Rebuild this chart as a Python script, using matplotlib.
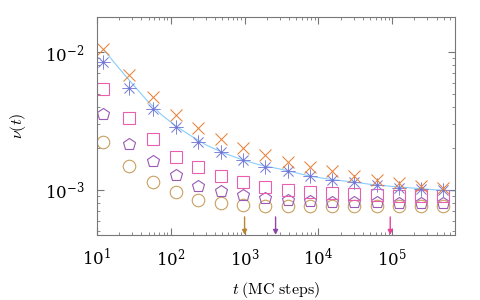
import numpy as np
import matplotlib
matplotlib.use("Agg")
import matplotlib.pyplot as plt
from matplotlib.ticker import LogLocator, NullFormatter

plt.rcParams['mathtext.fontset'] = 'cm'
plt.rcParams['font.family'] = ['DejaVu Serif']

# time points (MC steps)
t = [12, 27, 57, 117, 237, 477, 957, 1917, 3837, 7677, 15357, 30717,
     61437, 122877, 245757, 491517]

# series
nu_cross = [0.0105, 0.00681, 0.00472, 0.00349, 0.00281, 0.00234, 0.00201,
            0.00179, 0.00160, 0.00147, 0.00137, 0.00126, 0.00118, 0.00112,
            0.00107, 0.00103]
nu_star = [0.00846, 0.00548, 0.00386, 0.00286, 0.00223, 0.00188, 0.00165,
           0.00147, 0.00137, 0.00126, 0.00118, 0.00114, 0.00109, 0.00103,
           0.00102, 0.00100]
nu_square = [0.00540, 0.00333, 0.00234, 0.00173, 0.00147, 0.00126, 0.00114,
             0.00105, 0.00100, 0.000967, 0.000951, 0.000927, 0.000920,
             0.000905, 0.000905, 0.000905]
nu_pent = [0.00356, 0.00215, 0.00162, 0.00128, 0.00107, 0.000984, 0.000920,
           0.000875, 0.000847, 0.000833, 0.000819, 0.000819, 0.000813,
           0.000805, 0.000805, 0.000805]
nu_circle = [0.00221, 0.00148, 0.00114, 0.000967, 0.000847, 0.000806,
             0.000779, 0.000765, 0.000765, 0.000762, 0.000762, 0.000760,
             0.000760, 0.000760, 0.000760, 0.000760]

# fitted curve, read as points along the line
fit_t = [12.4, 20, 30, 47, 75, 117, 180, 300, 500, 940, 1600, 2970, 5000,
         7540, 15000, 30000, 49000, 100000, 198000, 400000, 710000]
fit_nu = [0.01034, 0.00760, 0.00590, 0.00449, 0.00350, 0.00291, 0.00250,
          0.00212, 0.00187, 0.00165, 0.00152, 0.00142, 0.00133, 0.00126,
          0.00119, 0.00114, 0.00110, 0.00106, 0.00103, 0.00100, 0.000984]

# arrows marking crossover times
arrow_t = [1000, 2630, 94000]
arrow_colors = ['#b8862e', '#8e44ad', '#e8409a']

fig, ax = plt.subplots(figsize=(4.8, 3), dpi=100)
fig.subplots_adjust(left=0.202, right=0.948, bottom=0.217, top=0.943)

ax.plot(fit_t, fit_nu, color='#87cefa', lw=0.8, zorder=1)
ax.plot(t, nu_circle, ls='none', marker='o', ms=9, mfc='none', mec='#c8a060', mew=0.8)
ax.plot(t, nu_pent, ls='none', marker='p', ms=9, mfc='none', mec='#9b59b6', mew=0.8)
ax.plot(t, nu_square, ls='none', marker='s', ms=8.5, mfc='none', mec='#e85fb0', mew=0.8)
ax.plot(t, nu_star, ls='none', marker=(8, 2, 0), ms=10, mfc='none', mec='#8488dc', mew=0.55)
ax.plot(t, nu_star, ls='none', marker='.', ms=3, mec='none', mfc='#6a70d0')
ax.plot(t, nu_cross, ls='none', marker='x', ms=8, mec='#e8833a', mew=0.75)

ax.set_xscale('log')
ax.set_yscale('log')
ax.set_xlim(10, 7.1e5)
ax.set_ylim(4.72e-4, 0.0179)

for at, c in zip(arrow_t, arrow_colors):
    ax.annotate('', xy=(at, 4.72e-4), xytext=(at, 6.37e-4),
                arrowprops=dict(arrowstyle='-|>', color=c, lw=1.0,
                                mutation_scale=7, shrinkA=0, shrinkB=0))

ax.xaxis.set_major_locator(LogLocator(base=10, numticks=10))
ax.xaxis.set_minor_locator(LogLocator(base=10, subs=np.arange(2, 10), numticks=20))
ax.yaxis.set_minor_locator(LogLocator(base=10, subs=np.arange(2, 10), numticks=20))
ax.xaxis.set_minor_formatter(NullFormatter())
ax.yaxis.set_minor_formatter(NullFormatter())

ax.tick_params(which='both', direction='in', top=True, right=True, color='#777777')
ax.tick_params(which='major', length=5, labelsize=12, pad=9)
ax.tick_params(which='minor', length=2.5)
for s in ax.spines.values():
    s.set_color('#777777')

ax.set_xlabel(r'$t\;\mathrm{(MC\ steps)}$', fontsize=11.5, labelpad=8)
ax.set_ylabel(r'$\nu(t)$', fontsize=11.5, labelpad=12)

plt.savefig('out.png', dpi=100)
